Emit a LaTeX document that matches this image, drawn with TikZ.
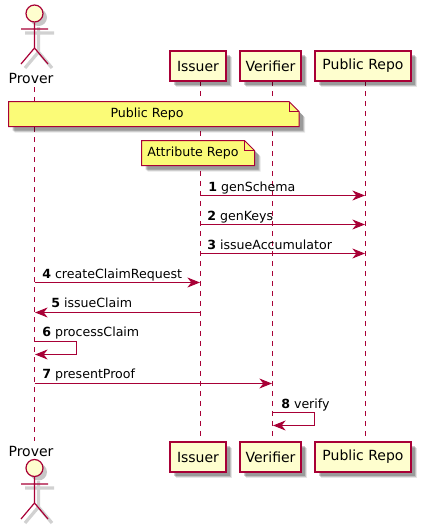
\documentclass[tikz,border=0pt]{standalone}
\usepackage{fontspec}
\setmainfont{DejaVu Sans}
\usetikzlibrary{arrows.meta,shadows}
\definecolor{umlred}{HTML}{A80036}
\definecolor{umlbox}{HTML}{FEFECE}
\definecolor{umlnote}{HTML}{FBFB77}
\tikzset{
  softshadow/.style={
    drop shadow={shadow xshift=4.5pt,shadow yshift=-4.5pt,opacity=.1,fill=black},
    drop shadow={shadow xshift=3.75pt,shadow yshift=-3.75pt,opacity=.16,fill=black},
    drop shadow={shadow xshift=3pt,shadow yshift=-3pt,opacity=.2,fill=black}},
  partbox/.style={draw=umlred,fill=umlbox,line width=.9pt,minimum height=22.5pt,inner sep=0pt,font=\fontsize{10.5}{12}\selectfont,text=black,softshadow},
  partlabel/.style={font=\fontsize{10.5}{12}\selectfont,inner sep=0pt},
  lifeline/.style={draw=umlred,line width=.75pt,dash pattern=on 3.75pt off 3.75pt},
  msg/.style={draw=umlred,line width=.75pt,-{Stealth[length=9.5pt,width=7.5pt,inset=3pt]}},
  msglabel/.style={anchor=base west,inner sep=0pt,font=\fontsize{9.45}{12}\selectfont},
  notebox/.style={draw=umlred,fill=umlnote,line width=.75pt,softshadow},
  notefold/.style={draw=umlred,line width=.75pt},
  notelabel/.style={inner sep=0pt,font=\fontsize{9.45}{12}\selectfont},
  limb/.style={draw=umlred,line width=.9pt},
  limbshade/.style={draw=black!18,line width=2.4pt},
  head/.style={circle,draw=umlred,fill=umlbox,line width=.9pt,minimum size=12.75pt,inner sep=0pt},
  headshade/.style={circle,fill=black!22,minimum size=12.75pt,inner sep=0pt}
}
\begin{document}
\begin{tikzpicture}[x=0.75pt,y=0.75pt,yscale=-1,xscale=1]
\useasboundingbox (0,0) rectangle (421,529);

% Lifelines
\coordinate (proverA) at (34.5,87);
\coordinate (proverB) at (34.5,441);
\coordinate (issuerA) at (200.5,81);
\coordinate (issuerB) at (200.5,442);
\coordinate (verifierA) at (272.5,81);
\coordinate (verifierB) at (272.5,442);
\coordinate (repoA) at (365.5,81);
\coordinate (repoB) at (365.5,442);
\draw [lifeline] (proverA) -- (proverB);
\draw [lifeline] (issuerA) -- (issuerB);
\draw [lifeline] (verifierA) -- (verifierB);
\draw [lifeline] (repoA) -- (repoB);

% Participants, top row
\node [partlabel] (proverTop) at (31,78) {Prover};
\node [partbox,minimum width=42pt] (issuerTop) at (198,66) {Issuer};
\node [partbox,minimum width=45.75pt] (verifierTop) at (270.5,66) {Verifier};
\node [partbox,minimum width=72pt] (repoTop) at (363,66) {Public Repo};
% Participants, bottom row
\node [partlabel] (proverBot) at (31,451) {Prover};
\node [partbox,minimum width=42pt] (issuerBot) at (198,457) {Issuer};
\node [partbox,minimum width=45.75pt] (verifierBot) at (270.5,457) {Verifier};
\node [partbox,minimum width=72pt] (repoBot) at (363,457) {Public Repo};

% Actor, top
\draw [limbshade] (38.5,27) -- (38.5,52) (25,33) -- (54,33) (38.5,52) -- (25,68) (38.5,52) -- (52,68);
\node [headshade] at (38.5,17.5) {};
\node [head] (headTop) at (34.5,13.5) {};
\coordinate (armLTop) at (21,29);
\coordinate (armRTop) at (48,29);
\coordinate (hipTop) at (34.5,48);
\coordinate (legLTop) at (21,64);
\coordinate (legRTop) at (48,64);
\draw [limb] (headTop) -- (hipTop) (armLTop) -- (armRTop) (legLTop) -- (hipTop) -- (legRTop);

% Actor, bottom
\draw [limbshade] (38.5,481) -- (38.5,507) (25,488) -- (54,488) (38.5,507) -- (25,523) (38.5,507) -- (52,523);
\node [headshade] at (38.5,472) {};
\node [head] (headBot) at (34.5,468) {};
\coordinate (armLBot) at (21,484);
\coordinate (armRBot) at (48,484);
\coordinate (hipBot) at (34.5,503);
\coordinate (legLBot) at (21,519);
\coordinate (legRBot) at (48,519);
\draw [limb] (headBot) -- (hipBot) (armLBot) -- (armRBot) (legLBot) -- (hipBot) -- (legRBot);

% Note over all
\draw [notebox] (8.5,101.5) -- (289,101.5) -- (299,111.5) -- (299,126.5) -- (8.5,126.5) -- cycle;
\draw [notefold] (289,101.5) -- (289,111.5) -- (299,111.5);
\node [notelabel] (noteRepo) at (147,114.5) {Public Repo};
% Note over issuer
\draw [notebox] (141.5,140.5) -- (244.5,140.5) -- (254.5,150.5) -- (254.5,165.5) -- (141.5,165.5) -- cycle;
\draw [notefold] (244.5,140.5) -- (244.5,150.5) -- (254.5,150.5);
\node [notelabel] (noteAttr) at (193,153.5) {Attribute Repo};

% Messages
\coordinate (m1a) at (200.5,195.5);
\coordinate (m1b) at (365,195.5);
\coordinate (m2a) at (200.5,224.5);
\coordinate (m2b) at (365,224.5);
\coordinate (m3a) at (200.5,253.5);
\coordinate (m3b) at (365,253.5);
\coordinate (m4a) at (34.5,282.5);
\coordinate (m4b) at (200,282.5);
\coordinate (m5a) at (200.5,312.5);
\coordinate (m5b) at (35,312.5);
\coordinate (m6a) at (34.5,341.5);
\coordinate (m6b) at (35,354.5);
\coordinate (m7a) at (34.5,383.5);
\coordinate (m7b) at (272,383.5);
\coordinate (m8a) at (272.5,412.5);
\coordinate (m8b) at (273,425.5);
\draw [msg] (m1a) -- (m1b);
\draw [msg] (m2a) -- (m2b);
\draw [msg] (m3a) -- (m3b);
\draw [msg] (m4a) -- (m4b);
\draw [msg] (m5a) -- (m5b);
\draw [msg] (m6a) -- ++(42,0) |- (m6b);
\draw [msg] (m7a) -- (m7b);
\draw [msg] (m8a) -- ++(42,0) |- (m8b);

% Message labels
\node [msglabel] (t1) at (208,191) {\textbf{1} genSchema};
\node [msglabel] (t2) at (207,220) {\textbf{2} genKeys};
\node [msglabel] (t3) at (207,249) {\textbf{3} issueAccumulator};
\node [msglabel] (t4) at (42,278) {\textbf{4} createClaimRequest};
\node [msglabel] (t5) at (51,307) {\textbf{5} issueClaim};
\node [msglabel] (t6) at (42,336) {\textbf{6} processClaim};
\node [msglabel] (t7) at (42,378) {\textbf{7} presentProof};
\node [msglabel] (t8) at (281,408) {\textbf{8} verify};

\end{tikzpicture}
\end{document}
